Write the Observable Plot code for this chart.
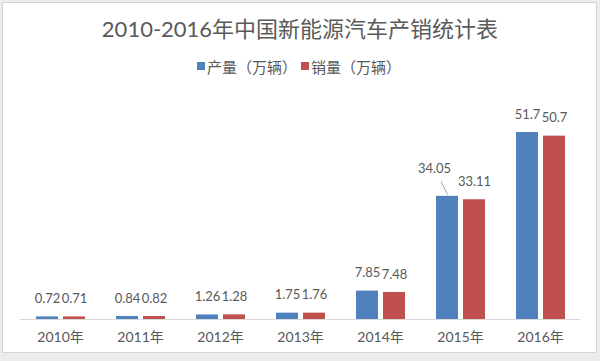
<!DOCTYPE html>
<html><head><meta charset="utf-8">
<script src="https://cdn.jsdelivr.net/npm/d3@7"></script>
<script src="https://cdn.jsdelivr.net/npm/@observablehq/plot@0.6"></script>
<style>
html,body{margin:0;padding:0;background:#fff;}
#frame{position:relative;width:600px;height:361px;background:#ececec;overflow:hidden;}
#panel{position:absolute;left:2px;top:2px;width:595px;height:351px;background:#fff;border:1px solid #d4d4d4;box-sizing:border-box;}
#title{position:absolute;left:0;top:14px;width:600px;line-height:30px;text-align:center;font-size:22px;font-family:Lato,"Noto Sans CJK SC",sans-serif;color:#5a5a5a;white-space:nowrap;}
#legend{position:absolute;left:-1px;top:56px;width:600px;height:20px;display:flex;justify-content:center;align-items:center;font-size:15px;font-family:"Noto Sans CJK SC",sans-serif;color:#595959;white-space:nowrap;}
#legend .sw{display:inline-block;width:8px;height:8px;margin-right:2px;}
#legend .item{display:flex;align-items:center;margin:0 2px;}
#chart{position:absolute;left:0;top:85px;}
</style></head>
<body>
<div id="frame">
  <div id="panel"></div>
  <div id="title">2010-2016年中国新能源汽车产销统计表</div>
  <div id="legend"></div>
  <div id="chart"></div>
</div>
<script>
const years = ["2010", "2011", "2012", "2013", "2014", "2015", "2016"];
const seriesNames = ["产量（万辆）", "销量（万辆）"];
const production = [0.72, 0.84, 1.26, 1.75, 7.85, 34.05, 51.7];
const sales = [0.71, 0.82, 1.28, 1.76, 7.48, 33.11, 50.7];
const colors = ["#4F81BD", "#C0504D"];

const rows = [];
years.forEach((yr, i) => {
  rows.push({year: yr, series: seriesNames[0], value: production[i]});
  rows.push({year: yr, series: seriesNames[1], value: sales[i]});
});
// the 2015 production label is pulled away from its bar with a leader line
const isMoved = d => d.year === "2015" && d.series === seriesNames[0];
const normalLabels = rows.filter(d => !isMoved(d));
const movedLabels = rows.filter(isMoved);

const legend = document.getElementById("legend");
seriesNames.forEach((s, i) => {
  const item = document.createElement("span");
  item.className = "item";
  const sw = document.createElement("span");
  sw.className = "sw";
  sw.style.background = colors[i];
  const t = document.createElement("span");
  t.textContent = s;
  item.appendChild(sw); item.appendChild(t);
  legend.appendChild(item);
});

const font = 'Lato, "Noto Sans CJK SC", sans-serif';
const chart = Plot.plot({
  width: 600,
  height: 270,
  marginTop: 17,
  marginBottom: 36,
  marginLeft: 20,
  marginRight: 20,
  style: {fontFamily: font, fontSize: "14px", color: "#595959", background: "transparent"},
  fx: {domain: years, padding: 0, label: null, axis: "bottom", tickSize: 0, tickPadding: 13, tickFormat: d => d + "年"},
  x: {domain: seriesNames, paddingInner: 0.2, paddingOuter: 0.55, axis: null},
  y: {domain: [0, 60], axis: null},
  color: {domain: seriesNames, range: colors},
  marks: [
    Plot.ruleY([0], {stroke: "#d9d9d9"}),
    Plot.barY(rows, {fx: "year", x: "series", y: "value", fill: "series"}),
    Plot.text(normalLabels, {fx: "year", x: "series", y: "value", text: d => String(d.value), dy: -18, fill: "#595959", fontSize: 13}),
    Plot.text(movedLabels, {fx: "year", x: "series", y: "value", text: d => String(d.value), dx: -13, dy: -28, fill: "#595959", fontSize: 13}),
    Plot.vector(movedLabels, {
      fx: "year", x: "series", y: "value", dy: -2, length: 14, rotate: -27, anchor: "start",
      stroke: "#a6a6a6", strokeWidth: 1,
      shape: {draw(context, l) { context.moveTo(0, 0); context.lineTo(0, -l); }}
    })
  ]
});
document.getElementById("chart").appendChild(chart);
</script>
</body></html>
